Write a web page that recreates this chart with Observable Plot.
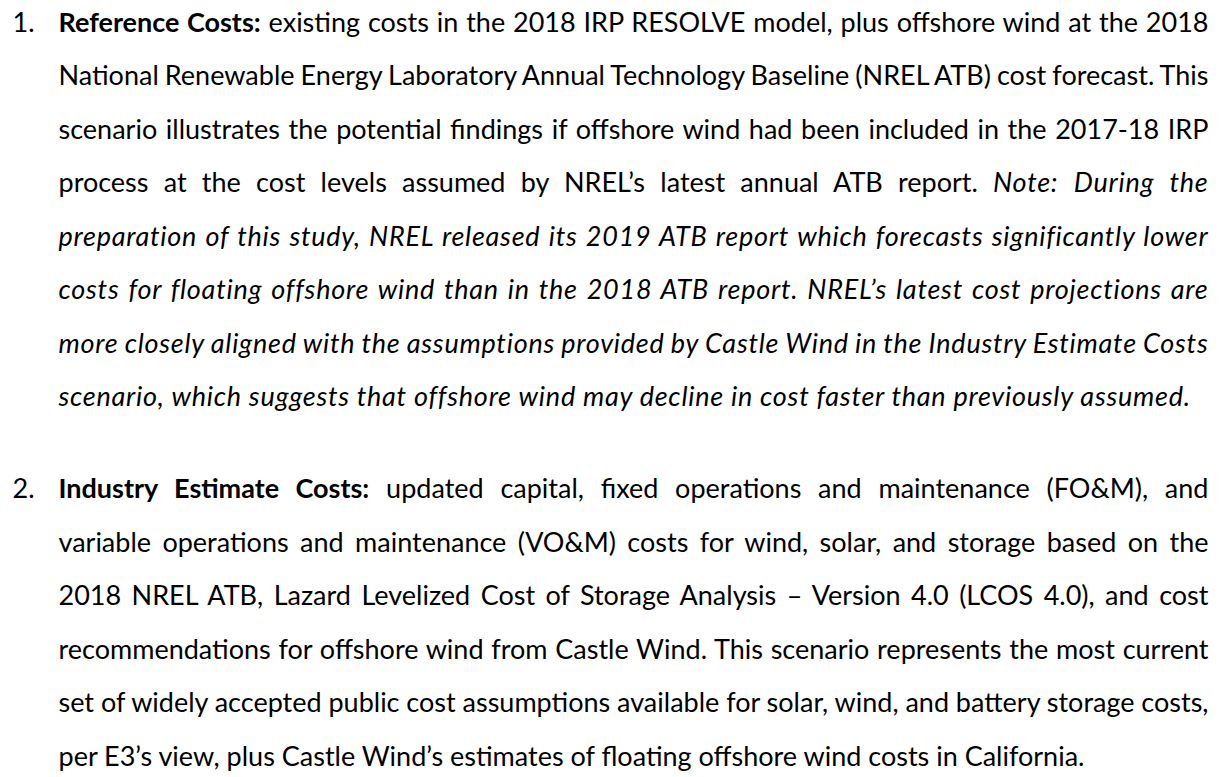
<!DOCTYPE html>
<html>
<head>
<meta charset="utf-8">
<script src="https://cdn.jsdelivr.net/npm/d3@7"></script>
<script src="https://cdn.jsdelivr.net/npm/@observablehq/plot@0.6"></script>
<style>
  html, body { margin: 0; padding: 0; background: #fff; }
  #chart { width: 1223px; height: 777px; overflow: hidden; }
</style>
</head>
<body>
<div id="chart"></div>
<script>
// ---- Data: list markers and the text lines of each numbered item ----
// **...** = bold, _..._ = italic
const markers = ["1.", "2."];

const paragraph1 = [
  "**Reference Costs:** existing costs in the 2018 IRP RESOLVE model, plus offshore wind at the 2018",
  "National Renewable Energy Laboratory Annual Technology Baseline (NREL ATB) cost forecast. This",
  "scenario illustrates the potential findings if offshore wind had been included in the 2017-18 IRP",
  "process at the cost levels assumed by NREL’s latest annual ATB report. _Note: During the_",
  "_preparation of this study, NREL released its 2019 ATB report which forecasts significantly lower_",
  "_costs for floating offshore wind than in the 2018 ATB report. NREL’s latest cost projections are_",
  "_more closely aligned with the assumptions provided by Castle Wind in the Industry Estimate Costs_",
  "_scenario, which suggests that offshore wind may decline in cost faster than previously assumed._"
];

const paragraph2 = [
  "**Industry Estimate Costs:** updated capital, fixed operations and maintenance (FO&M), and",
  "variable operations and maintenance (VO&M) costs for wind, solar, and storage based on the",
  "2018 NREL ATB, Lazard Levelized Cost of Storage Analysis – Version 4.0 (LCOS 4.0), and cost",
  "recommendations for offshore wind from Castle Wind. This scenario represents the most current",
  "set of widely accepted public cost assumptions available for solar, wind, and battery storage costs,",
  "per E3’s view, plus Castle Wind’s estimates of floating offshore wind costs in California."
];

// ---- Build table ----
const paragraphs = [paragraph1, paragraph2];
const rows = [];
paragraphs.forEach((lines, p) => lines.forEach((t, i) => rows.push({
  para: p,
  row: rows.length,
  first: i === 0,
  justify: i < lines.length - 1,
  markup: t,
  plain: t.replace(/\*\*|_/g, "")
})));
const markerRows = rows.filter(d => d.first).map((d, i) => ({...d, marker: markers[i]}));

const FS = 27;            // font size (px)
const PARA_GAP = 0.72;    // extra space between numbered items, in line units
const RIGHT = 1208;       // right margin of justified text
const FONT = "Lato, 'Open Sans', 'Noto Sans', sans-serif";
const ITALIC_TRACKING = 0.75; // px, widens Lato italic toward the original's italic width

const lineY = d => d.row + PARA_GAP * d.para;

const chart = Plot.plot({
  width: 1223,
  height: 777,
  margin: 0,
  style: {fontFamily: FONT, fontSize: FS + "px", color: "#000", background: "#fff"},
  x: {type: "linear", domain: [0, 1], range: [12, 58], axis: null},
  y: {type: "linear", domain: [0, 1], range: [31, 84.5], axis: null},
  marks: [
    Plot.text(markerRows, {
      x: () => 0, y: lineY, text: "marker",
      textAnchor: "start", lineAnchor: "bottom",
      fill: "#000", fontSize: FS
    }),
    Plot.text(rows, {
      x: () => 1, y: lineY, text: "plain",
      textAnchor: "start", lineAnchor: "bottom",
      fill: "#000", fontSize: FS
    })
  ]
});

document.getElementById("chart").append(chart);

// ---- Rich text (bold / italic) and full justification ----
const x1 = chart.scale("x").apply(1);
const target = RIGHT - x1;
const groups = chart.querySelectorAll('g[aria-label="text"]');
const lineGroup = groups[groups.length - 1];
const lineTexts = lineGroup.querySelectorAll("text");
lineTexts.forEach((el, i) => {
  const d = rows[i];
  while (el.firstChild) el.removeChild(el.firstChild);
  const parts = d.markup.split(/(\*\*[^*]+\*\*|_[^_]+_)/).filter(s => s.length);
  for (const part of parts) {
    const ts = document.createElementNS("http://www.w3.org/2000/svg", "tspan");
    if (part.startsWith("**")) {
      ts.setAttribute("font-weight", "bold");
      ts.textContent = part.slice(2, -2);
    } else if (part.startsWith("_")) {
      ts.setAttribute("font-style", "italic");
      ts.style.letterSpacing = ITALIC_TRACKING + "px";
      ts.textContent = part.slice(1, -1);
    } else {
      ts.textContent = part;
    }
    el.appendChild(ts);
  }
  el.setAttribute("xml:space", "preserve");
  if (d.justify) {
    const natural = el.getComputedTextLength();
    const spaces = (d.plain.match(/ /g) || []).length;
    if (spaces > 0) el.style.wordSpacing = ((target - natural) / spaces) + "px";
  }
});
</script>
</body>
</html>
